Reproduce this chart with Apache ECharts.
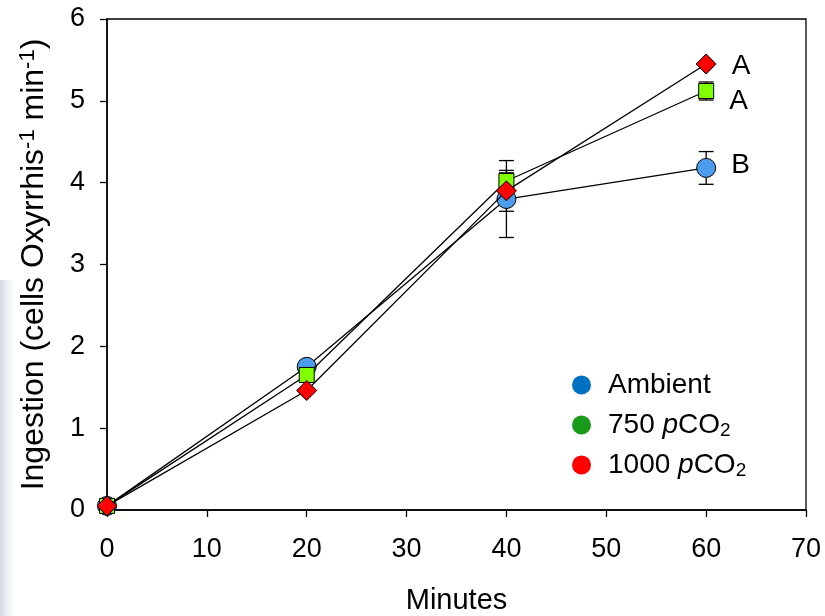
<!DOCTYPE html>
<html>
<head>
<meta charset="utf-8">
<script src="https://cdn.jsdelivr.net/npm/echarts@6/dist/echarts.min.js"></script>
<style>
html,body{margin:0;padding:0;background:#fff;}
#chart{width:825px;height:616px;}
</style>
</head>
<body>
<div id="chart"></div>
<script>
// ---- data ----
var minutes = [0, 20, 40, 60];
var ambient = [0.05, 1.75, 3.80, 4.18];
var co2_750 = [0.05, 1.65, 4.02, 5.12];
var co2_1000 = [0.05, 1.46, 3.90, 5.45];
var errAmbient = [0.0, 0.05, 0.47, 0.20];
var err750 = [0.0, 0.05, 0.10, 0.11];
var err1000 = [0.0, 0.03, 0.25, 0.03];
var letters = ['B', 'A', 'A']; // ambient, 750, 1000 at 60 min
var xTicks = [0, 10, 20, 30, 40, 50, 60, 70];
var yTicks = [0, 1, 2, 3, 4, 5, 6];

var FONT = '"Liberation Sans", Arial, sans-serif';

function pts(vals, letter, off) {
  return vals.map(function (v, i) {
    var d = { value: [minutes[i], v] };
    if (i === vals.length - 1) {
      d.label = { show: true, formatter: letter, position: 'right', distance: 15,
        offset: off, fontSize: 28, color: '#000', fontFamily: FONT };
    }
    return d;
  });
}
function errData(vals, errs) {
  return vals.map(function (v, i) { return [minutes[i], v, errs[i]]; });
}
function errSeries(vals, errs, z) {
  return {
    type: 'custom', name: 'err', z: z, silent: true,
    data: errData(vals, errs),
    renderItem: function (params, api) {
      var x = api.value(0), y = api.value(1), e = api.value(2);
      if (!e) return null;
      var top = api.coord([x, y + e]);
      var bot = api.coord([x, y - e]);
      var hw = 7.5;
      var st = { stroke: '#000', lineWidth: 1.3 };
      return { type: 'group', children: [
        { type: 'line', shape: { x1: top[0], y1: top[1], x2: bot[0], y2: bot[1] }, style: st },
        { type: 'line', shape: { x1: top[0] - hw, y1: top[1], x2: top[0] + hw, y2: top[1] }, style: st },
        { type: 'line', shape: { x1: bot[0] - hw, y1: bot[1], x2: bot[0] + hw, y2: bot[1] }, style: st }
      ]};
    }
  };
}

var chart = echarts.init(document.getElementById('chart'), null, { renderer: 'canvas' });
var lineStyle = { color: '#000', width: 1.3 };
var option = {
  animation: false,
  backgroundColor: '#fff',
  graphic: [{
    type: 'rect', left: 0, top: 280, z: -10,
    shape: { width: 16, height: 336 },
    style: { fill: new echarts.graphic.LinearGradient(0, 0, 1, 0, [
      { offset: 0, color: 'rgba(150,170,195,0.45)' },
      { offset: 1, color: 'rgba(220,228,238,0)' }]) }
  }],
  grid: { left: 107, right: 19, top: 19, bottom: 106, containLabel: false, outerBoundsMode: 'none',
    show: true, borderColor: '#000', borderWidth: 1.3, backgroundColor: 'transparent' },
  xAxis: {
    type: 'value', min: xTicks[0], max: xTicks[xTicks.length - 1], interval: 10,
    name: 'Minutes', nameLocation: 'middle', nameGap: 76,
    nameTextStyle: { fontSize: 29, color: '#000', fontFamily: FONT },
    axisLine: { show: true, lineStyle: { color: '#000', width: 1.5 } },
    axisTick: { show: true, inside: false, length: 7, lineStyle: { color: '#000', width: 1.3 } },
    axisLabel: { fontSize: 27, color: '#000', fontFamily: FONT, margin: 26 },
    splitLine: { show: false }
  },
  yAxis: {
    type: 'value', min: yTicks[0], max: yTicks[yTicks.length - 1], interval: 1,
    name: 'Ingestion (cells Oxyrrhis{sup|-1} min{sup|-1})',
    nameLocation: 'middle', nameGap: 55, nameRotate: 90,
    nameTextStyle: { fontSize: 32, color: '#000', fontFamily: FONT, lineHeight: 35,
      rich: { sup: { fontSize: 22, color: '#000', fontFamily: FONT, verticalAlign: 'top', lineHeight: 35, padding: [0, 0, 12, 0] } } },
    axisLine: { show: true, lineStyle: { color: '#000', width: 1.5 } },
    axisTick: { show: true, inside: false, length: 7, lineStyle: { color: '#000', width: 1.3 } },
    axisLabel: { fontSize: 27, color: '#000', fontFamily: FONT, margin: 22 },
    splitLine: { show: false }
  },
  legend: {
    orient: 'vertical', left: 567, top: 365, itemGap: 10, itemWidth: 19, itemHeight: 19,
    selectedMode: false,
    data: [
      { name: 'Ambient', icon: 'circle', itemStyle: { color: '#0070C0', borderWidth: 0 } },
      { name: '750', icon: 'circle', itemStyle: { color: '#1a9a1a', borderWidth: 0 } },
      { name: '1000', icon: 'circle', itemStyle: { color: '#ff0000', borderWidth: 0 } }
    ],
    formatter: function (n) { return n === 'Ambient' ? 'Ambient' : n + ' {i|p}CO{sub|2}'; },
    textStyle: { fontSize: 28, color: '#000', fontFamily: FONT, lineHeight: 30, padding: [0, 0, 0, 12],
      rich: {
        i: { fontSize: 28, fontStyle: 'italic', color: '#000', fontFamily: FONT, lineHeight: 30 },
        sub: { fontSize: 19, color: '#000', fontFamily: FONT, verticalAlign: 'bottom', lineHeight: 30, padding: [10, 0, 0, 0] }
      } }
  },
  series: [
    errSeries(ambient, errAmbient, 1),
    errSeries(co2_750, err750, 1),
    errSeries(co2_1000, err1000, 1),
    { name: 'Ambient', type: 'line', z: 3, data: pts(ambient, letters[0], [0, -3]),
      symbol: 'circle', symbolSize: 19, lineStyle: lineStyle,
      itemStyle: { color: '#4c9ded', borderColor: '#000', borderWidth: 1 } },
    { name: '750', type: 'line', z: 4, data: pts(co2_750, letters[1], [0, 10]),
      symbol: 'rect', symbolSize: 15, lineStyle: lineStyle,
      itemStyle: { color: '#80ff00', borderColor: '#000', borderWidth: 1 } },
    { name: '1000', type: 'line', z: 5, data: pts(co2_1000, letters[2], [0, 2]),
      symbol: 'diamond', symbolSize: [20, 20], lineStyle: lineStyle,
      itemStyle: { color: '#ff0000', borderColor: '#000', borderWidth: 1 } }
  ]
};
chart.setOption(option);
</script>
</body>
</html>
